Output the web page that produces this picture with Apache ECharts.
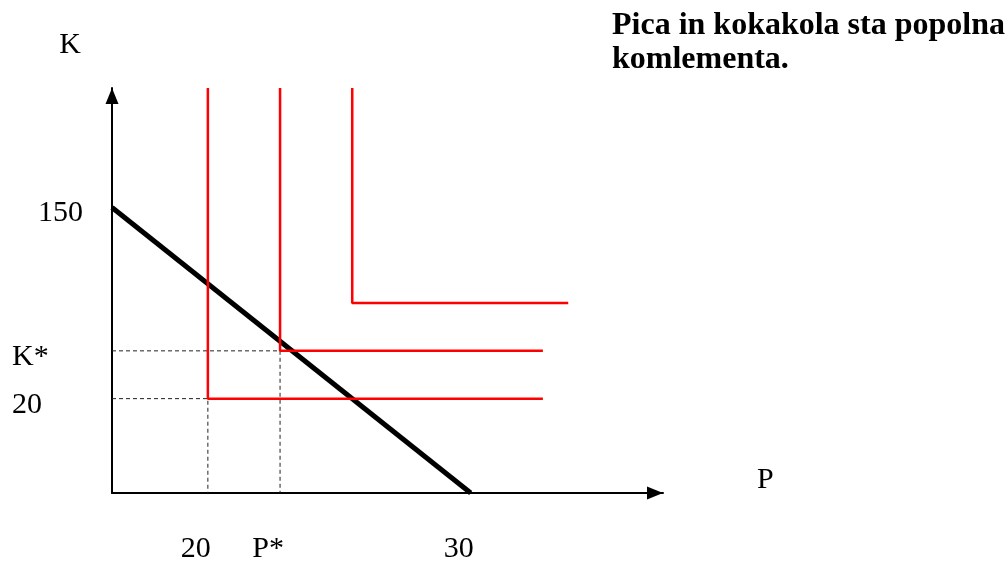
<!DOCTYPE html>
<html>
<head>
<meta charset="utf-8">
<script src="https://cdn.jsdelivr.net/npm/echarts@6/dist/echarts.min.js"></script>
<style>html,body{margin:0;padding:0;background:#fff}#c{width:1007px;height:564px}</style>
</head>
<body>
<div id="c"></div>
<script>
// Abstract diagram units: both axes run 0..100
const xTickValues = [17.4, 30.5, 65.1];
const xTickLabels = ['20', 'P*', '30'];
const yTickValues = [70.5, 35.1, 23.3];
const yTickLabels = ['150', 'K*', '20'];
const budgetLine = [[0, 70.5], [65.1, 0]];
const indiff1 = [[17.4, 100], [17.4, 23.3], [78.2, 23.3]];
const indiff2 = [[30.5, 100], [30.5, 35.1], [78.2, 35.1]];
const indiff3 = [[43.6, 100], [43.6, 46.9], [82.8, 46.9]];
const guide1 = [[0, 35.1], [30.5, 35.1], [30.5, 0]];
const guide2 = [[0, 23.3], [17.4, 23.3], [17.4, 0]];
const titleText = 'Pica in kokakola sta popolna\nkomlementa.';

const FONT = 'Liberation Serif';
const chart = echarts.init(document.getElementById('c'));
const lineStyle = (color, width, type) => ({ color, width, type: type || 'solid' });
function seg(name, data, color, width, type, z) {
  return { name, type: 'line', data, symbol: 'none', silent: true, z: z,
    lineStyle: lineStyle(color, width, type), clip: false };
}
chart.setOption({
  animation: false,
  backgroundColor: '#fff',
  title: {
    text: titleText, left: 607, top: 4,
    textStyle: { fontFamily: FONT, fontWeight: 'bold', fontSize: 32, lineHeight: 34, color: '#000' }
  },
  grid: { left: 112, top: 88, width: 551, height: 407 },
  xAxis: {
    type: 'value', min: 0, max: 100,
    name: 'P', nameLocation: 'end', nameGap: 94,
    nameTextStyle: { fontFamily: FONT, fontSize: 30, color: '#000', verticalAlign: 'bottom', lineHeight: 26 },
    axisLine: { show: true, onZero: false, symbol: ['none', 'triangle'], symbolSize: [13, 16], symbolOffset: [0, -8],
      lineStyle: { color: '#000', width: 2 } },
    axisTick: { show: false },
    splitLine: { show: false },
    axisLabel: {
      customValues: xTickValues, margin: 41,
      fontFamily: FONT, fontSize: 30, color: '#000',
      padding: [0, 24, 0, 0],
      formatter: v => xTickLabels[xTickValues.indexOf(v)]
    }
  },
  yAxis: {
    type: 'value', min: 0, max: 100,
    name: 'K', nameLocation: 'end', nameGap: 28,
    nameTextStyle: { fontFamily: FONT, fontSize: 30, color: '#000', align: 'center', padding: [0, 84, 0, 0] },
    axisLine: { show: true, onZero: false, symbol: ['none', 'triangle'], symbolSize: [13, 16], symbolOffset: [0, -8],
      lineStyle: { color: '#000', width: 2 } },
    axisTick: { show: false },
    splitLine: { show: false },
    axisLabel: {
      customValues: yTickValues, margin: 29, align: 'right',
      fontFamily: FONT, fontSize: 30, color: '#000',
      formatter: v => {
        const i = yTickValues.indexOf(v);
        return i === 0 ? '{a|' + yTickLabels[i] + '}' : '{b|' + yTickLabels[i] + '}';
      },
      rich: {
        a: { fontFamily: FONT, fontSize: 30, color: '#000', padding: [12, 0, 0, 0] },
        b: { fontFamily: FONT, fontSize: 30, color: '#000', width: 71, align: 'left', padding: [12, 0, 0, 0] }
      }
    }
  },
  series: [
    seg('guide1', guide1, '#222', 1, [4, 3], 1),
    seg('guide2', guide2, '#222', 1, [4, 3], 1),
    seg('budget', budgetLine, '#000', 5, 'solid', 2),
    seg('ic1', indiff1, '#ff0000', 2.5, 'solid', 3),
    seg('ic2', indiff2, '#ff0000', 2.5, 'solid', 3),
    seg('ic3', indiff3, '#ff0000', 2.5, 'solid', 3)
  ]
});
</script>
</body>
</html>
